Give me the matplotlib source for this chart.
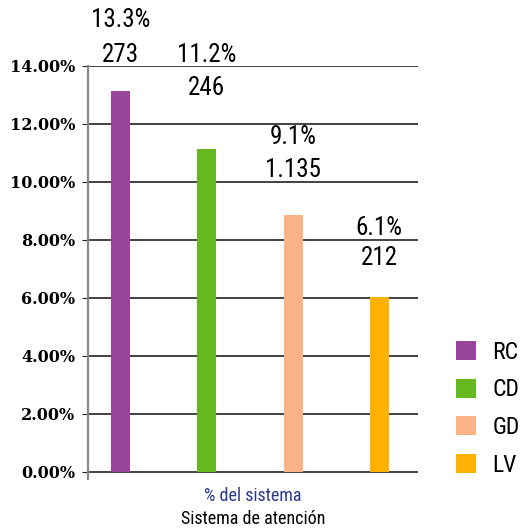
import matplotlib.pyplot as plt
from matplotlib import font_manager

# datos
categorias = ['RC', 'CD', 'GD', 'LV']
porcentaje = [13.14, 11.14, 8.86, 6.03]
etiqueta_pct = ['13.3%', '11.2%', '9.1%', '6.1%']
etiqueta_num = ['273', '246', '1.135', '212']
colores = ['#99449C', '#66B821', '#FBB287', '#FDB100']
ticks_y = [0, 2, 4, 6, 8, 10, 12, 14]

# posición vertical de las etiquetas (en unidades del eje)
pos_pct = [15.59, 14.38, 11.55, 8.41]
pos_num = [14.38, 13.24, 10.41, 7.38]

# fuente estrecha si hay alguna
disponibles = {f.name for f in font_manager.fontManager.ttflist}
fuente = [f for f in ['Roboto Condensed', 'Liberation Sans Narrow', 'Open Sans Condensed']
          if f in disponibles] + ['DejaVu Sans']
fp = dict(family=fuente, stretch='condensed')

fig = plt.figure(figsize=(5.2, 5.31), dpi=100)
ax = fig.add_axes([0.169, 0.098, 0.635, 0.778])

x = list(range(len(categorias)))
barras = ax.bar(x, porcentaje, width=0.22, color=colores, zorder=3)

for i in x:
    ax.text(i, pos_pct[i], etiqueta_pct[i], ha='center', va='center',
            fontsize=18, clip_on=False, **fp)
    ax.text(i, pos_num[i], etiqueta_num[i], ha='center', va='center',
            fontsize=18, clip_on=False, **fp)

ax.set_xlim(-0.38, 3.45)
ax.set_ylim(-0.25, 14)
ax.set_yticks(ticks_y)
ax.set_yticklabels(['%.2f%%' % t for t in ticks_y], family='DejaVu Serif',
                   fontweight='bold', fontsize=11.5)
ax.set_xticks([])

for t in ticks_y:
    ax.axhline(t, color='#222222', lw=1.2, zorder=1)

for s in ['top', 'right', 'bottom']:
    ax.spines[s].set_visible(False)
ax.spines['left'].set_color('#888888')
ax.spines['left'].set_linewidth(1.6)
ax.spines['left'].set_bounds(-0.25, 14)
ax.tick_params(axis='y', length=4, color='#222222', pad=5)

ax.text(0.5, -0.02, '% del sistema', transform=ax.transAxes, ha='center',
        va='top', fontsize=13, color='#2B3990', **fp)
ax.text(0.5, -0.076, 'Sistema de atención', transform=ax.transAxes,
        ha='center', va='top', fontsize=13, color='black', **fp)

leg = ax.legend(barras, categorias, loc='center left', bbox_to_anchor=(1.05, 0.17),
                frameon=False, prop=font_manager.FontProperties(size=17, **fp),
                handlelength=0.85, handleheight=0.85, labelspacing=0.62,
                handletextpad=0.7)

fig.savefig('out.png', dpi=100)
